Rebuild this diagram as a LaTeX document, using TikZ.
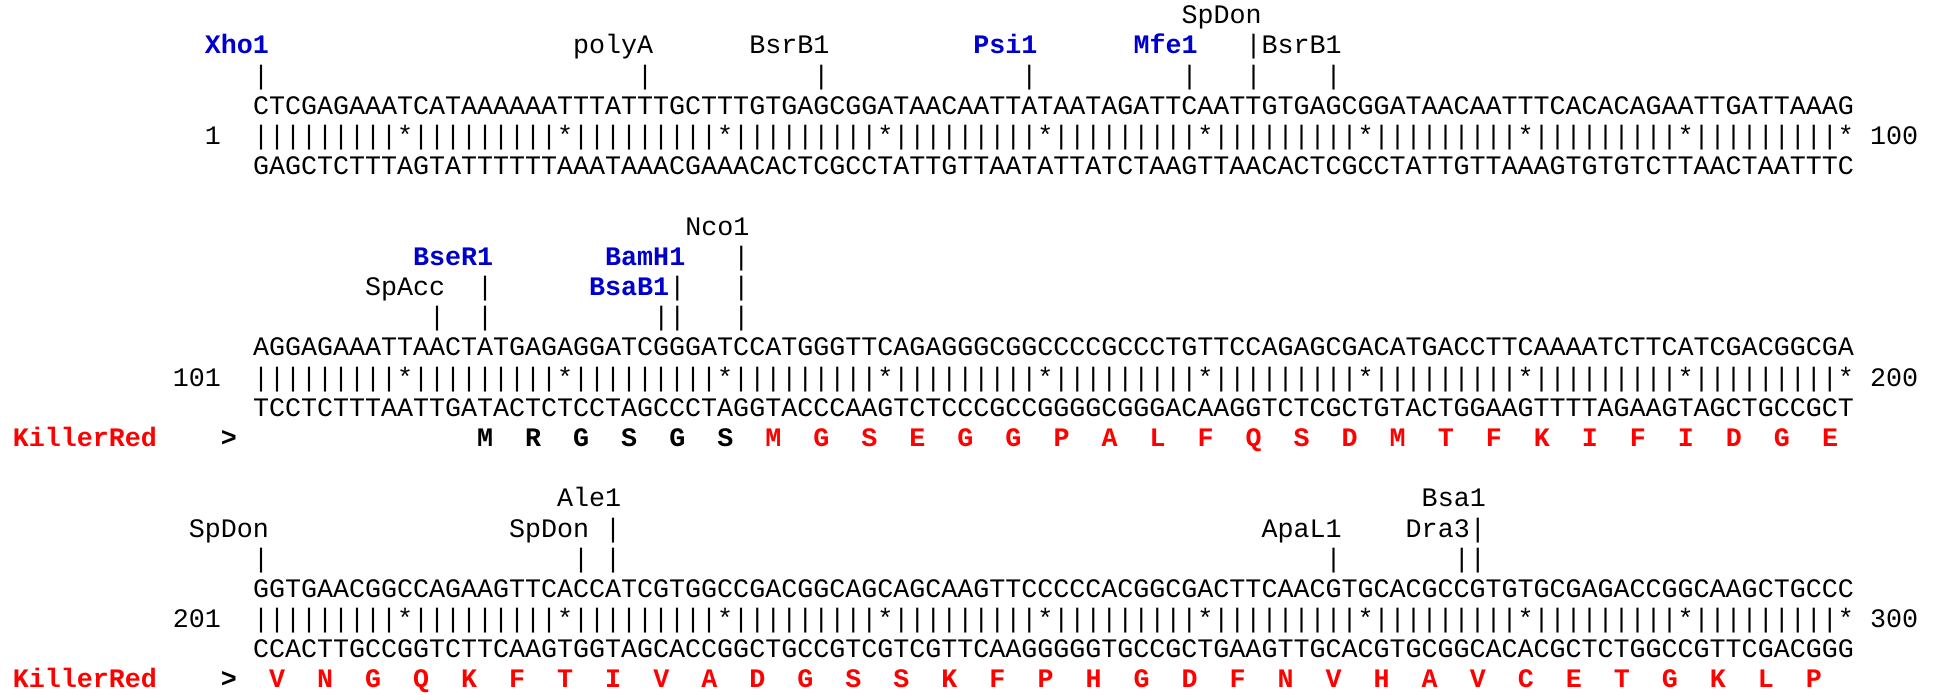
\documentclass[tikz,border=0pt]{standalone}
\usepackage{fontspec}
\newfontfamily\seqfont{Liberation Mono}
\definecolor{siteblue}{RGB}{0,0,204}
\definecolor{aared}{RGB}{255,0,0}
\tikzset{
  seq/.style={font=\seqfont\fontsize{26.68}{28}\selectfont, inner sep=0pt, outer sep=0pt},
  sitelab/.style={seq, anchor=base east},
  bluelab/.style={seq, font=\seqfont\fontsize{26.68}{28}\selectfont\bfseries, text=siteblue, anchor=base east},
  ticklab/.style={seq, anchor=base},
  strand/.style={seq, anchor=base west},
  aablack/.style={seq, font=\seqfont\fontsize{26.68}{28}\selectfont\bfseries, text=black, anchor=base},
  aared/.style={seq, font=\seqfont\fontsize{26.68}{28}\selectfont\bfseries, text=aared, anchor=base},
  protname/.style={seq, font=\seqfont\fontsize{26.68}{28}\selectfont\bfseries, text=aared, anchor=base west},
  numleft/.style={seq, anchor=base east},
  numright/.style={seq, anchor=base west}
}
% label whose right edge is at the right edge of column #3, on line #4
\newcommand\lbl[5]{\node[#1] (#2) at ({253+16.01*#3}, {-(23.8+30.19*#4)}) {#5};}
% tick in column #2 on line #3
\newcommand\tck[3]{\node[ticklab] (#1) at ({253+16.01*(#2-0.5)}, {-(23.8+30.19*#3)}) {|};}
\newcommand\strnd[3]{\node[strand] (#1) at (253, {-(23.8+30.19*#2)}) {#3};}
\begin{document}
\begin{tikzpicture}[x=1pt,y=1pt]
\fill[white] (0,0) rectangle (1935,-695);
\useasboundingbox (0,0) rectangle (1935,-695);

% ---------------- Row 1 ----------------
\lbl{sitelab}{spdonA}{63}{0}{SpDon}
\lbl{bluelab}{xho}{1}{1}{Xho1}
\lbl{sitelab}{polya}{25}{1}{polyA}
\lbl{sitelab}{bsrA}{36}{1}{BsrB1}
\lbl{bluelab}{psi}{49}{1}{Psi1}
\lbl{bluelab}{mfe}{59}{1}{Mfe1}
\tck{tA1}{63}{1}
\lbl{sitelab}{bsrB}{68}{1}{BsrB1}
\tck{tA2}{1}{2}
\tck{tA3}{25}{2}
\tck{tA4}{36}{2}
\tck{tA5}{49}{2}
\tck{tA6}{59}{2}
\tck{tA7}{63}{2}
\tck{tA8}{68}{2}
\strnd{topA}{3}{CTCGAGAAATCATAAAAAATTTATTTGCTTTGTGAGCGGATAACAATTATAATAGATTCAATTGTGAGCGGATAACAATTTCACACAGAATTGATTAAAG}
\strnd{matchA}{4}{|||||||||*|||||||||*|||||||||*|||||||||*|||||||||*|||||||||*|||||||||*|||||||||*|||||||||*|||||||||*}
\strnd{botA}{5}{GAGCTCTTTAGTATTTTTTAAATAAACGAAACACTCGCCTATTGTTAATATTATCTAAGTTAACACTCGCCTATTGTTAAAGTGTGTCTTAACTAATTTC}
\lbl{numleft}{nA}{-2}{4}{1}
\lbl{numright}{eA}{101}{4}{100}

% ---------------- Row 2 ----------------
\lbl{sitelab}{nco}{31}{7}{Nco1}
\lbl{bluelab}{bser}{15}{8}{BseR1}
\lbl{bluelab}{bamh}{27}{8}{BamH1}
\tck{tB1}{31}{8}
\lbl{sitelab}{spacc}{12}{9}{SpAcc}
\tck{tB2}{15}{9}
\lbl{bluelab}{bsab}{26}{9}{BsaB1}
\tck{tB3}{27}{9}
\tck{tB4}{31}{9}
\tck{tB5}{12}{10}
\tck{tB6}{15}{10}
\tck{tB7}{26}{10}
\tck{tB8}{27}{10}
\tck{tB9}{31}{10}
\strnd{topB}{11}{AGGAGAAATTAACTATGAGAGGATCGGGATCCATGGGTTCAGAGGGCGGCCCCGCCCTGTTCCAGAGCGACATGACCTTCAAAATCTTCATCGACGGCGA}
\strnd{matchB}{12}{|||||||||*|||||||||*|||||||||*|||||||||*|||||||||*|||||||||*|||||||||*|||||||||*|||||||||*|||||||||*}
\strnd{botB}{13}{TCCTCTTTAATTGATACTCTCCTAGCCCTAGGTACCCAAGTCTCCCGCCGGGGCGGGACAAGGTCTCGCTGTACTGGAAGTTTTAGAAGTAGCTGCCGCT}
\lbl{numleft}{nB}{-2}{12}{101}
\lbl{numright}{eB}{101}{12}{200}
\lbl{protname}{krB}{-15}{14}{KillerRed}
\node[aablack] (gtB) at ({253+16.01*(-1.5)}, {-(23.8+30.19*14)}) {>};
\foreach \a [count=\i] in {M,R,G,S,G,S}
  \node[aablack] (pB\i) at ({253+16.01*(15+3*(\i-1)-0.5)}, {-(23.8+30.19*14)}) {\a};
\foreach \a [count=\i] in {M,G,S,E,G,G,P,A,L,F,Q,S,D,M,T,F,K,I,F,I,D,G,E}
  \node[aared] (qB\i) at ({253+16.01*(33+3*(\i-1)-0.5)}, {-(23.8+30.19*14)}) {\a};

% ---------------- Row 3 ----------------
\lbl{sitelab}{ale}{23}{16}{Ale1}
\lbl{sitelab}{bsa}{77}{16}{Bsa1}
\lbl{sitelab}{spdonB}{1}{17}{SpDon}
\lbl{sitelab}{spdonC}{21}{17}{SpDon}
\tck{tC1}{23}{17}
\lbl{sitelab}{apal}{68}{17}{ApaL1}
\lbl{sitelab}{dra}{76}{17}{Dra3}
\tck{tC2}{77}{17}
\tck{tC3}{1}{18}
\tck{tC4}{21}{18}
\tck{tC5}{23}{18}
\tck{tC6}{68}{18}
\tck{tC7}{76}{18}
\tck{tC8}{77}{18}
\strnd{topC}{19}{GGTGAACGGCCAGAAGTTCACCATCGTGGCCGACGGCAGCAGCAAGTTCCCCCACGGCGACTTCAACGTGCACGCCGTGTGCGAGACCGGCAAGCTGCCC}
\strnd{matchC}{20}{|||||||||*|||||||||*|||||||||*|||||||||*|||||||||*|||||||||*|||||||||*|||||||||*|||||||||*|||||||||*}
\strnd{botC}{21}{CCACTTGCCGGTCTTCAAGTGGTAGCACCGGCTGCCGTCGTCGTTCAAGGGGGTGCCGCTGAAGTTGCACGTGCGGCACACGCTCTGGCCGTTCGACGGG}
\lbl{numleft}{nC}{-2}{20}{201}
\lbl{numright}{eC}{101}{20}{300}
\lbl{protname}{krC}{-15}{22}{KillerRed}
\node[aablack] (gtC) at ({253+16.01*(-1.5)}, {-(23.8+30.19*22)}) {>};
\foreach \a [count=\i] in {V,N,G,Q,K,F,T,I,V,A,D,G,S,S,K,F,P,H,G,D,F,N,V,H,A,V,C,E,T,G,K,L,P}
  \node[aared] (qC\i) at ({253+16.01*(2+3*(\i-1)-0.5)}, {-(23.8+30.19*22)}) {\a};
\end{tikzpicture}
\end{document}
